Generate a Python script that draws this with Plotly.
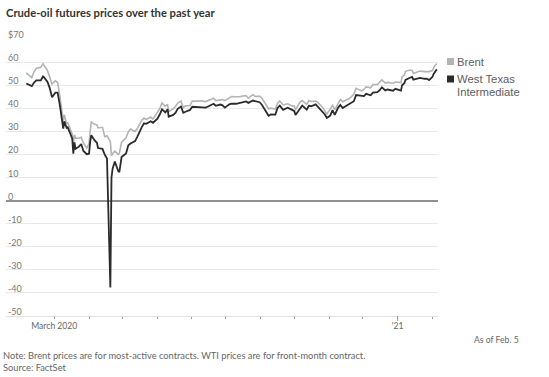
import plotly.graph_objects as go

dates = [
    "2020-02-05", "2020-02-07", "2020-02-10", "2020-02-12", "2020-02-14", "2020-02-18",
    "2020-02-20", "2020-02-21", "2020-02-24", "2020-02-26", "2020-02-28", "2020-03-02",
    "2020-03-04", "2020-03-06", "2020-03-09", "2020-03-10", "2020-03-12", "2020-03-13",
    "2020-03-16", "2020-03-17", "2020-03-18", "2020-03-19", "2020-03-20", "2020-03-23",
    "2020-03-25", "2020-03-27", "2020-03-30", "2020-04-01", "2020-04-02", "2020-04-03",
    "2020-04-06", "2020-04-08", "2020-04-09", "2020-04-13", "2020-04-15", "2020-04-17",
    "2020-04-20", "2020-04-21", "2020-04-22", "2020-04-24", "2020-04-27", "2020-04-28",
    "2020-04-30", "2020-05-04", "2020-05-06", "2020-05-08", "2020-05-12", "2020-05-14",
    "2020-05-18", "2020-05-20", "2020-05-22", "2020-05-26", "2020-05-28", "2020-06-01",
    "2020-06-03", "2020-06-05", "2020-06-08", "2020-06-10", "2020-06-11", "2020-06-15",
    "2020-06-17", "2020-06-19", "2020-06-22", "2020-06-24", "2020-06-26", "2020-06-30",
    "2020-07-02", "2020-07-07", "2020-07-10", "2020-07-14", "2020-07-16", "2020-07-21",
    "2020-07-23", "2020-07-27", "2020-07-29", "2020-07-31", "2020-08-04", "2020-08-06",
    "2020-08-10", "2020-08-13", "2020-08-17", "2020-08-19", "2020-08-21", "2020-08-25",
    "2020-08-27", "2020-08-31", "2020-09-02", "2020-09-04", "2020-09-08", "2020-09-10",
    "2020-09-14", "2020-09-16", "2020-09-18", "2020-09-21", "2020-09-23", "2020-09-25",
    "2020-09-29", "2020-10-01", "2020-10-02", "2020-10-06", "2020-10-08", "2020-10-12",
    "2020-10-14", "2020-10-16", "2020-10-20", "2020-10-22", "2020-10-26", "2020-10-28",
    "2020-10-30", "2020-11-02", "2020-11-04", "2020-11-06", "2020-11-09", "2020-11-11",
    "2020-11-13", "2020-11-17", "2020-11-19", "2020-11-23", "2020-11-25", "2020-11-27",
    "2020-11-30", "2020-12-02", "2020-12-04", "2020-12-08", "2020-12-10", "2020-12-14",
    "2020-12-16", "2020-12-18", "2020-12-21", "2020-12-23", "2020-12-28", "2020-12-30",
    "2021-01-04", "2021-01-05", "2021-01-07", "2021-01-08", "2021-01-12", "2021-01-14",
    "2021-01-15", "2021-01-19", "2021-01-21", "2021-01-25", "2021-01-27", "2021-01-29",
    "2021-02-01", "2021-02-02", "2021-02-03", "2021-02-04", "2021-02-05",
]

wti = [
    50.75, 50.32, 49.57, 51.17, 52.05, 52.05,
    53.78, 53.38, 51.43, 48.73, 44.76, 46.75,
    46.78, 41.28, 31.13, 34.36, 31.50, 31.73,
    28.70, 26.95, 20.37, 25.22, 22.43, 23.36,
    24.49, 21.51, 20.09, 20.31, 25.32, 28.34,
    26.08, 25.09, 22.76, 22.41, 19.87, 18.27,
    -37.63, 10.01, 13.78, 16.94, 12.78, 12.34,
    18.84, 20.39, 23.99, 24.74, 25.78, 27.56,
    31.82, 33.49, 33.25, 34.35, 33.71, 35.44,
    37.29, 39.55, 38.19, 39.60, 36.34, 37.12,
    37.96, 39.75, 40.73, 38.01, 38.49, 39.27,
    40.65, 40.62, 40.55, 40.29, 40.75, 41.96,
    41.07, 41.60, 41.27, 40.27, 41.70, 41.95,
    41.94, 42.24, 42.89, 42.93, 42.34, 43.35,
    43.04, 42.61, 41.51, 39.77, 36.76, 37.30,
    37.26, 40.16, 41.11, 39.31, 39.93, 40.25,
    39.29, 38.72, 37.05, 39.57, 41.19, 39.43,
    41.04, 40.88, 41.70, 40.64, 38.56, 37.39,
    35.79, 36.81, 39.15, 37.14, 40.29, 41.45,
    40.13, 41.43, 41.74, 43.06, 45.71, 45.53,
    45.34, 45.28, 46.26, 45.60, 46.78, 46.99,
    47.82, 49.10, 47.74, 48.12, 47.62, 48.40,
    47.62, 49.93, 50.83, 52.24, 53.21, 53.57,
    52.36, 52.98, 53.13, 52.77, 52.85, 52.20,
    53.55, 54.76, 55.69, 56.23, 56.85,
]

brent = [
    55.28, 54.47, 53.27, 55.79, 57.32, 57.75,
    59.31, 58.50, 56.30, 53.43, 50.52, 51.90,
    51.13, 45.27, 34.36, 37.22, 33.22, 33.85,
    30.05, 28.73, 24.88, 28.47, 26.98, 27.03,
    27.39, 24.93, 22.76, 24.74, 29.94, 34.11,
    33.05, 32.84, 31.48, 31.74, 27.69, 28.08,
    25.57, 19.33, 20.37, 21.44, 19.99, 20.46,
    25.27, 27.20, 29.72, 30.97, 29.98, 31.13,
    34.81, 35.75, 35.13, 36.17, 35.29, 38.32,
    39.79, 42.30, 40.80, 41.73, 38.55, 39.72,
    40.71, 42.19, 43.08, 40.31, 41.02, 41.15,
    43.14, 43.08, 43.24, 42.90, 43.37, 44.32,
    43.31, 43.41, 43.75, 43.30, 44.43, 45.09,
    44.99, 44.96, 45.37, 45.37, 44.35, 45.86,
    45.09, 45.28, 44.43, 42.66, 39.78, 40.06,
    39.61, 42.22, 43.15, 41.44, 41.77, 41.92,
    41.03, 40.93, 39.27, 42.65, 43.34, 41.72,
    43.32, 42.93, 43.16, 42.46, 40.46, 39.12,
    37.46, 39.71, 41.23, 39.45, 42.40, 43.80,
    42.78, 43.75, 44.20, 46.06, 48.61, 48.18,
    47.59, 48.25, 49.25, 48.84, 50.25, 50.29,
    51.08, 52.26, 50.91, 51.20, 50.86, 51.34,
    51.09, 53.60, 54.38, 55.99, 56.58, 56.42,
    55.10, 55.90, 56.10, 55.88, 55.81, 55.88,
    56.35, 57.46, 58.46, 58.84, 59.34,
]

y_ticks = [70, 60, 50, 40, 30, 20, 10, 0, -10, -20, -30, -40, -50]
y_tick_labels = ["$70", "60", "50", "40", "30", "20", "10", "0", "-10", "-20", "-30", "-40", "-50"]

x_ticks = ["2020-03-01", "2020-04-01", "2020-05-01", "2020-06-01", "2020-07-01", "2020-08-01",
           "2020-09-01", "2020-10-01", "2020-11-01", "2020-12-01", "2021-01-01", "2021-02-01"]
x_tick_labels = ["March 2020", "", "", "", "", "", "", "", "", "", "'21", ""]

series_names = ["Brent", "West Texas<br>Intermediate"]

NARROW = "Lato, Roboto, sans-serif"
REG = "Liberation Sans, Arial, sans-serif"

fig = go.Figure()
fig.add_trace(go.Scatter(x=dates, y=brent, mode="lines", name="Brent",
                         line=dict(color="#b4b4b4", width=1.6), showlegend=False))
fig.add_trace(go.Scatter(x=dates, y=wti, mode="lines", name="West Texas Intermediate",
                         line=dict(color="#2b2b2b", width=1.8), showlegend=False))

W, H = 549, 377
L, R, T, B = 6, 111, 39, 61
pw, ph = W - L - R, H - T - B

def px(x):
    return (x - L) / pw

def py(y):
    return (H - B - y) / ph

fig.update_layout(
    width=W, height=H,
    margin=dict(l=L, r=R, t=T, b=B, pad=0),
    paper_bgcolor="white", plot_bgcolor="white",
    title=dict(text="<b>Crude-oil futures prices over the past year</b>",
               x=6 / W, xanchor="left", xref="container",
               y=1 - 13 / H, yanchor="middle", yref="container",
               font=dict(family=NARROW, size=11.2, color="#333333")),
    xaxis=dict(
        range=["2020-01-18", "2021-02-06"],
        tickmode="array", tickvals=x_ticks, ticktext=x_tick_labels,
        ticks="outside", ticklen=2, tickwidth=1, tickcolor="#999999",
        showgrid=False, showline=True, linecolor="#e2e2e2", linewidth=1,
        tickfont=dict(family=NARROW, size=8.6, color="#666666"),
        zeroline=False,
    ),
    yaxis=dict(
        range=[-50, 70],
        tickmode="array", tickvals=y_ticks, ticktext=y_tick_labels,
        showticklabels=False, ticks="",
        showgrid=True, gridcolor="#e9e9e9", gridwidth=1,
        zeroline=True, zerolinecolor="#8f8f8f", zerolinewidth=1.6,
        showline=False,
    ),
    showlegend=False,
)

# y tick labels sitting just above their gridlines
for v, t in zip(y_ticks, y_tick_labels):
    fig.add_annotation(text=t, xref="paper", yref="y", x=px(6), y=v,
                       xanchor="left", yanchor="bottom", yshift=-3,
                       showarrow=False,
                       font=dict(family=NARROW, size=9, color="#777777"))

# longer year tick
fig.add_shape(type="line", xref="x", yref="paper", x0="2021-01-01", x1="2021-01-01",
              y0=0, y1=-5 / ph, line=dict(color="#999999", width=1))

# legend (square swatch + label lines)
legend_colors = ["#b4b4b4", "#2b2b2b"]
legend_y = [61.5, 79]
for name, col, yc in zip(series_names, legend_colors, legend_y):
    fig.add_shape(type="rect", xref="paper", yref="paper",
                  x0=px(447), x1=px(454), y0=py(yc + 3.5), y1=py(yc - 3.5),
                  fillcolor=col, line=dict(width=0))
    for i, line_text in enumerate(name.split("<br>")):
        fig.add_annotation(text=line_text, xref="paper", yref="paper",
                           x=px(455), y=py(yc + 12.5 * i), xanchor="left", yanchor="middle",
                           showarrow=False, align="left",
                           font=dict(family=REG, size=11.3, color="#606060"))

fig.add_annotation(text="As of Feb. 5", xref="paper", yref="paper",
                   x=px(521), y=py(340), xanchor="right", yanchor="middle",
                   showarrow=False, font=dict(family=NARROW, size=8.6, color="#666666"))
fig.add_annotation(text="Note: Brent prices are for most-active contracts. WTI prices are for front-month contract.",
                   xref="paper", yref="paper", x=px(1), y=py(355.5), xanchor="left", yanchor="middle",
                   showarrow=False, font=dict(family=NARROW, size=9.3, color="#666666"))
fig.add_annotation(text="Source: FactSet",
                   xref="paper", yref="paper", x=px(1), y=py(367), xanchor="left", yanchor="middle",
                   showarrow=False, font=dict(family=NARROW, size=9.3, color="#666666"))

fig.write_html("out.html", config={"displayModeBar": False},
               post_script="document.body.style.margin='0';")
